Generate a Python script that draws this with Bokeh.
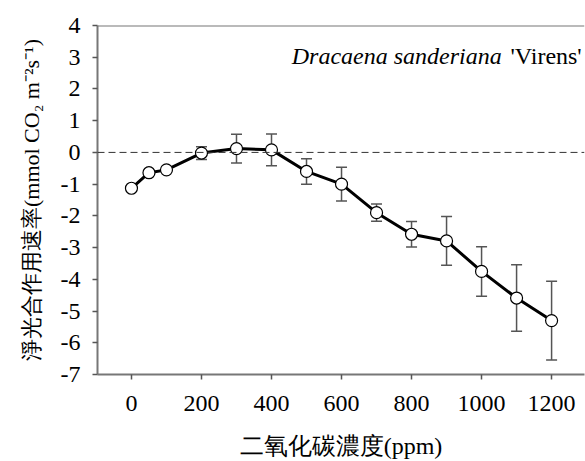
from bokeh.plotting import figure
from bokeh.models import (ColumnDataSource, Whisker, TeeHead, Span, FixedTicker, Range1d, Label,
                          NumeralTickFormatter)
from bokeh.embed import file_html
from bokeh.resources import INLINE

co2 = [0, 50, 100, 200, 300, 400, 500, 600, 700, 800, 900, 1000, 1100, 1200]
rate = [-1.13, -0.64, -0.55, -0.02, 0.12, 0.08, -0.60, -1.00, -1.90, -2.58, -2.79, -3.75, -4.59, -5.30]
err = [0.0, 0.0, 0.0, 0.20, 0.45, 0.50, 0.40, 0.53, 0.27, 0.40, 0.77, 0.78, 1.05, 1.24]
x_ticks = [0, 200, 400, 600, 800, 1000, 1200]
y_ticks = [-7, -6, -5, -4, -3, -2, -1, 0, 1, 2, 3, 4]

src = ColumnDataSource(dict(
    x=co2, y=rate,
    upper=[r + e for r, e in zip(rate, err)],
    lower=[r - e for r, e in zip(rate, err)],
))

SERIF = "'Liberation Serif'"

p = figure(width=585, height=461, output_backend="svg", toolbar_location=None,
           x_range=Range1d(-97, 1294), y_range=Range1d(-7, 4),
           min_border_left=97, min_border_top=25, min_border_bottom=85, min_border_right=1)
p.outline_line_color = None
p.grid.visible = False
p.background_fill_color = "white"
p.border_fill_color = "white"

zero = Span(location=0, dimension="width", line_color="#333333", line_width=1, line_dash="7 4")
p.add_layout(zero)
top = Span(location=4, dimension="width", line_color="#777777", line_width=2)
p.add_layout(top)

wh = Whisker(source=src, base="x", upper="upper", lower="lower", dimension="height",
             line_color="#555555", line_width=1.5, level="underlay",
             upper_head=TeeHead(size=11, line_color="#555555", line_width=1.5),
             lower_head=TeeHead(size=11, line_color="#555555", line_width=1.5))
p.add_layout(wh)

p.line("x", "y", source=src, line_color="black", line_width=3)
p.scatter("x", "y", source=src, size=12, fill_color="white", line_color="black", line_width=1.2)

for ax in (p.xaxis[0], p.yaxis[0]):
    ax.axis_line_color = "#777777"
    ax.axis_line_width = 2
    ax.major_tick_line_color = "#555555"
    ax.major_tick_line_width = 1.5
    ax.major_tick_out = 5
    ax.major_tick_in = 0
    ax.minor_tick_line_color = None
    ax.major_label_text_font = SERIF
    ax.major_label_text_font_size = "24px"
    ax.major_label_text_color = "black"
    ax.axis_label_text_font = SERIF
    ax.axis_label_text_font_style = "normal"
    ax.axis_label_text_color = "black"
    ax.formatter = NumeralTickFormatter(format="0")

p.xaxis.ticker = FixedTicker(ticks=x_ticks)
p.yaxis.ticker = FixedTicker(ticks=y_ticks)
p.xaxis.major_label_standoff = 16
p.yaxis.major_label_standoff = 12

p.xaxis.axis_label = "二氧化碳濃度(ppm)"
p.xaxis.axis_label_text_font_size = "24px"
p.xaxis.axis_label_standoff = 19

p.yaxis.axis_label = "淨光合作用速率(mmol CO₂ m⁻²s⁻¹)"
p.yaxis.axis_label_text_font_size = "22px"
p.yaxis.axis_label_standoff = 14

lab2 = Label(x=1286, y=3.05, text="'Virens'", text_baseline="alphabetic",
             text_font=SERIF, text_font_size="24px", text_align="right", text_color="black")
lab1 = Label(x=1286, y=3.05, x_offset=-80, text="Dracaena sanderiana", text_baseline="alphabetic",
             text_font=SERIF, text_font_size="24px", text_font_style="italic",
             text_align="right", text_color="black")
p.add_layout(lab1)
p.add_layout(lab2)

open("out.html", "w").write(file_html(p, INLINE))
